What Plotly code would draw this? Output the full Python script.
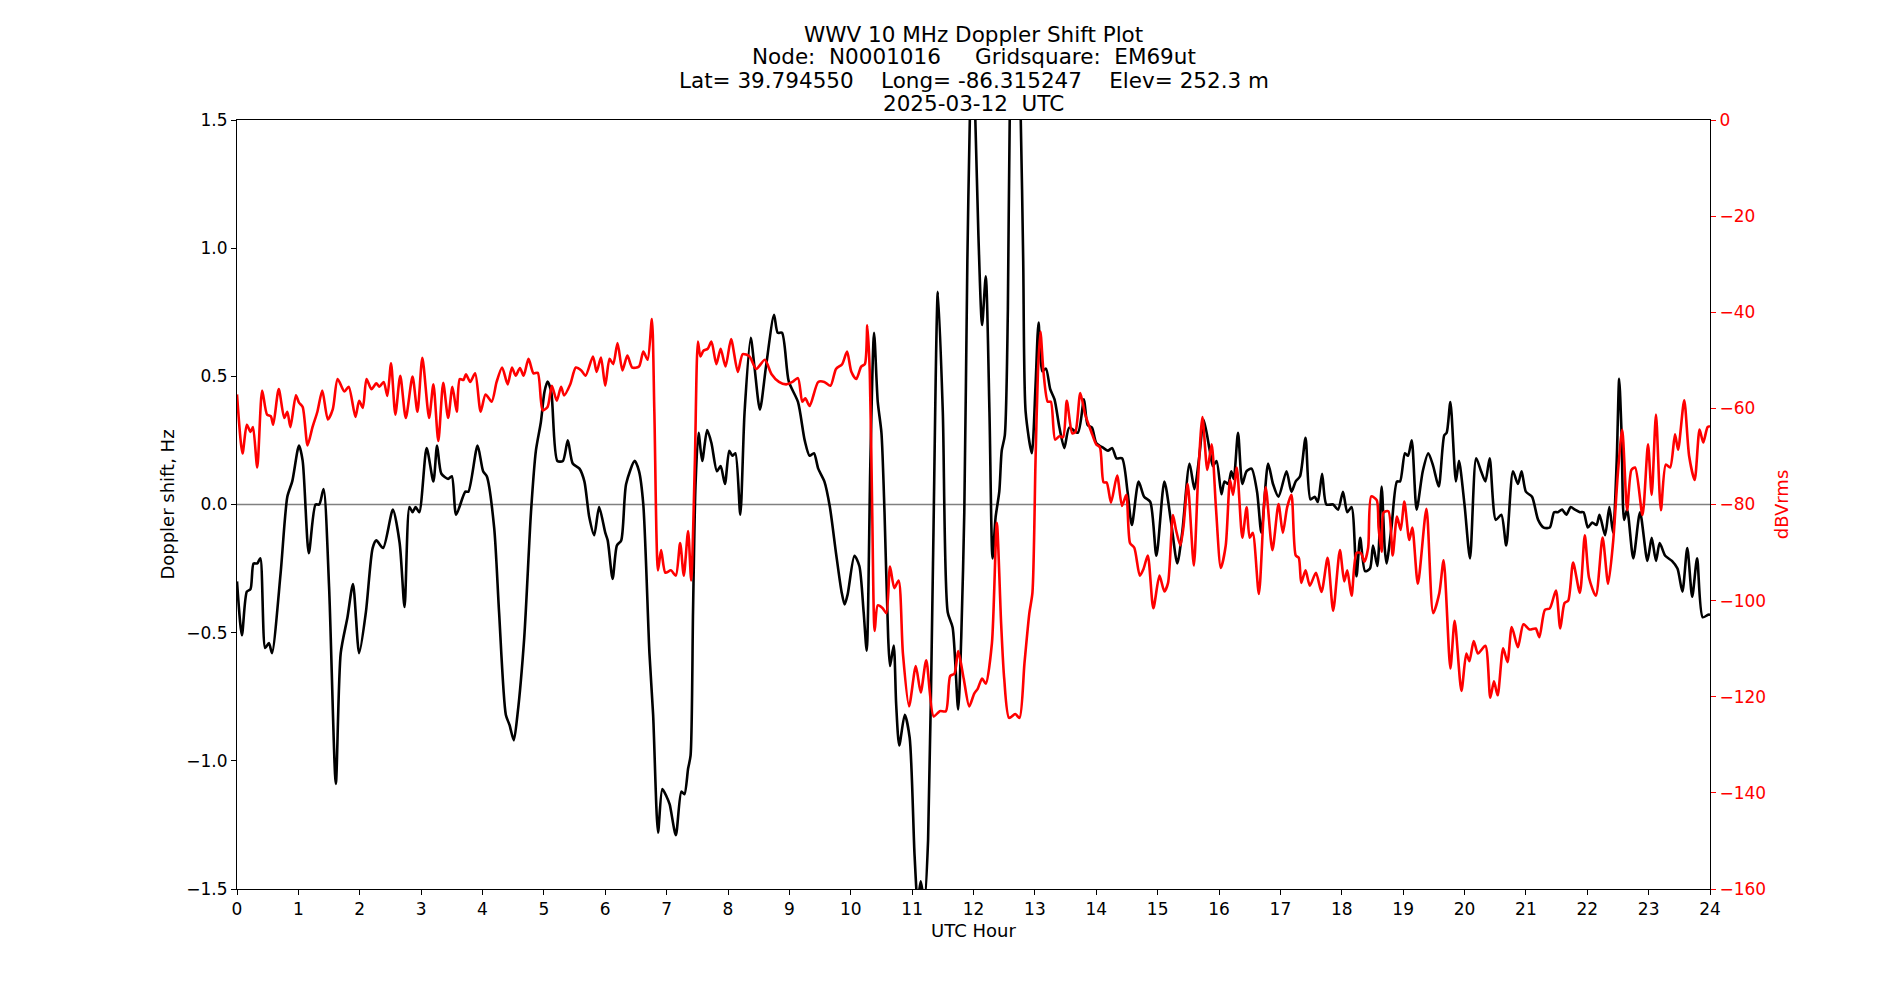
import plotly.graph_objects as go

# ---- Data ----
dop_hours = [0.00,0.08,0.16,0.22,0.27,0.33,0.38,0.46,0.52,0.57,0.71,0.82,0.90,1.01,1.07,1.17,1.28,1.34,1.41,1.50,
             1.61,1.69,1.80,1.89,1.99,2.10,2.21,2.27,2.38,2.54,2.65,2.73,2.81,2.86,2.91,2.97,3.09,3.20,3.26,3.33,
             3.44,3.50,3.57,3.72,3.77,3.92,4.01,4.07,4.19,4.27,4.38,4.44,4.51,4.57,4.68,4.79,4.87,4.95,5.01,5.06,
             5.12,5.22,5.31,5.39,5.47,5.58,5.66,5.74,5.82,5.90,6.00,6.04,6.12,6.19,6.26,6.34,6.48,6.55,6.62,6.72,
             6.78,6.86,6.93,7.00,7.05,7.15,7.24,7.29,7.35,7.39,7.43,7.47,7.52,7.58,7.66,7.73,7.82,7.88,7.95,8.02,
             8.07,8.12,8.20,8.27,8.37,8.43,8.52,8.62,8.75,8.81,8.88,8.99,9.14,9.25,9.33,9.40,9.47,9.57,9.66,9.76,
             9.85,9.90,9.95,10.06,10.14,10.21,10.26,10.32,10.38,10.44,10.50,10.55,10.61,10.64,10.70,10.74,10.79,10.88,10.96,11.04,
             11.09,11.14,11.20,11.26,11.34,11.42,11.50,11.58,11.66,11.75,11.80,11.85,11.90,11.94,11.98,12.03,12.08,12.14,12.20,12.26,
             12.31,12.36,12.42,12.46,12.51,12.56,12.59,12.68,12.77,12.81,12.85,12.95,13.01,13.06,13.12,13.18,13.25,13.32,13.40,13.48,
             13.56,13.70,13.80,13.86,13.93,14.00,14.12,14.19,14.26,14.33,14.42,14.51,14.58,14.69,14.78,14.88,14.98,15.11,15.22,15.32,
             15.40,15.52,15.60,15.68,15.75,15.85,15.90,15.96,16.04,16.09,16.15,16.20,16.24,16.31,16.38,16.45,16.53,16.62,16.69,16.80,
             16.88,16.97,17.10,17.18,17.25,17.32,17.41,17.49,17.56,17.61,17.68,17.75,17.86,17.94,18.02,18.09,18.16,18.24,18.30,18.38,
             18.46,18.51,18.58,18.65,18.70,18.73,18.81,18.90,18.95,19.03,19.08,19.14,19.22,19.32,19.41,19.49,19.58,19.67,19.71,19.77,
             19.86,19.91,20.00,20.09,20.19,20.27,20.34,20.41,20.51,20.60,20.68,20.79,20.87,20.93,21.00,21.10,21.20,21.29,21.39,21.46,
             21.52,21.59,21.66,21.73,21.80,21.88,21.94,22.01,22.08,22.15,22.20,22.29,22.36,22.42,22.48,22.52,22.56,22.60,22.65,22.75,
             22.86,22.98,23.05,23.12,23.18,23.27,23.38,23.47,23.55,23.63,23.71,23.79,23.88,23.97,24.00]
doppler_hz = [-0.30,-0.51,-0.34,-0.33,-0.23,-0.23,-0.21,-0.56,-0.54,-0.58,-0.27,0.03,0.09,0.23,0.17,-0.19,0.00,0.00,0.06,-0.32,
              -1.09,-0.58,-0.44,-0.31,-0.58,-0.42,-0.17,-0.14,-0.17,-0.02,-0.15,-0.40,-0.01,-0.03,-0.01,-0.03,0.22,0.09,0.23,0.12,
              0.10,0.11,-0.04,0.05,0.05,0.23,0.13,0.11,-0.09,-0.42,-0.82,-0.86,-0.92,-0.82,-0.52,-0.03,0.21,0.32,0.44,0.48,
              0.44,0.17,0.17,0.25,0.16,0.14,0.09,-0.05,-0.12,-0.01,-0.11,-0.14,-0.29,-0.16,-0.14,0.08,0.17,0.13,0.00,-0.58,
              -0.82,-1.28,-1.11,-1.14,-1.17,-1.29,-1.12,-1.13,-1.03,-0.98,-0.42,0.07,0.28,0.17,0.29,0.24,0.13,0.15,0.08,0.21,
              0.19,0.20,-0.04,0.36,0.65,0.54,0.37,0.54,0.74,0.67,0.67,0.48,0.40,0.25,0.19,0.20,0.14,0.09,-0.01,-0.19,
              -0.34,-0.39,-0.35,-0.20,-0.24,-0.42,-0.57,0.17,0.67,0.40,0.28,-0.03,-0.52,-0.63,-0.55,-0.78,-0.94,-0.82,-0.91,-1.37,
              -1.55,-1.47,-1.55,-1.31,-0.23,0.83,0.36,-0.42,-0.48,-0.80,-0.52,-0.03,0.95,1.50,1.80,1.50,1.05,0.70,0.89,0.36,
              -0.21,-0.05,0.05,0.21,0.27,0.76,1.50,2.20,1.50,0.95,0.36,0.20,0.46,0.71,0.52,0.53,0.45,0.41,0.30,0.22,
              0.30,0.28,0.41,0.31,0.30,0.24,0.22,0.21,0.22,0.18,0.18,0.05,-0.08,0.09,0.03,0.01,-0.20,0.09,-0.07,-0.23,
              -0.11,0.16,0.06,0.19,0.33,0.21,0.15,0.17,0.04,0.09,0.08,0.13,0.10,0.28,0.08,0.13,0.14,0.05,-0.11,0.16,
              0.08,0.03,0.13,0.05,0.09,0.11,0.26,0.02,0.03,0.01,0.12,0.00,0.00,-0.02,0.05,-0.03,-0.01,-0.28,-0.13,-0.26,
              -0.25,-0.16,-0.24,0.07,-0.17,-0.23,-0.09,0.09,0.09,0.20,0.19,0.25,-0.02,0.13,0.20,0.15,0.07,0.27,0.28,0.40,
              0.09,0.17,0.00,-0.21,0.18,0.13,0.09,0.18,-0.06,-0.04,-0.16,0.13,0.08,0.13,0.05,0.03,-0.06,-0.09,-0.09,-0.03,
              -0.03,-0.02,-0.04,-0.01,-0.02,-0.03,-0.03,-0.09,-0.07,-0.08,-0.04,-0.12,-0.01,-0.11,0.17,0.49,0.27,-0.06,-0.02,-0.21,
              -0.03,-0.22,-0.13,-0.22,-0.15,-0.20,-0.22,-0.25,-0.34,-0.17,-0.36,-0.21,-0.44,-0.43,-0.43]

pwr_hours = [0.00,0.09,0.16,0.22,0.26,0.33,0.41,0.49,0.55,0.59,0.68,0.77,0.82,0.87,0.96,1.01,1.07,1.15,1.23,1.31,
             1.39,1.48,1.56,1.64,1.75,1.82,1.93,1.99,2.05,2.11,2.19,2.27,2.32,2.39,2.45,2.51,2.58,2.66,2.75,2.86,
             2.94,3.02,3.13,3.20,3.28,3.36,3.44,3.51,3.58,3.63,3.69,3.73,3.80,3.88,3.97,4.05,4.15,4.23,4.32,4.41,
             4.48,4.54,4.61,4.67,4.75,4.83,4.90,4.98,5.06,5.13,5.21,5.28,5.33,5.43,5.52,5.61,5.68,5.80,5.86,5.93,
             6.00,6.07,6.13,6.20,6.28,6.36,6.44,6.55,6.62,6.69,6.76,6.80,6.86,6.91,6.98,7.07,7.15,7.22,7.28,7.35,
             7.40,7.46,7.51,7.55,7.60,7.67,7.73,7.81,7.88,7.96,8.05,8.16,8.24,8.35,8.46,8.60,8.71,8.83,8.95,9.05,
             9.14,9.21,9.26,9.33,9.47,9.57,9.67,9.76,9.86,9.94,10.01,10.09,10.17,10.23,10.27,10.31,10.35,10.39,10.44,10.52,
             10.58,10.64,10.71,10.78,10.85,10.95,11.06,11.14,11.23,11.35,11.45,11.55,11.62,11.69,11.75,11.84,11.93,12.01,12.07,12.14,
             12.20,12.30,12.38,12.45,12.50,12.58,12.68,12.75,12.83,12.91,12.96,13.01,13.05,13.09,13.14,13.21,13.26,13.33,13.40,13.46,
             13.52,13.61,13.66,13.74,13.82,13.92,14.00,14.06,14.12,14.17,14.24,14.34,14.42,14.49,14.55,14.62,14.71,14.77,14.84,14.93,
             15.03,15.11,15.17,15.25,15.30,15.37,15.42,15.49,15.59,15.66,15.73,15.81,15.88,15.95,16.03,16.11,16.18,16.23,16.29,16.38,
             16.45,16.50,16.55,16.65,16.76,16.87,16.97,17.04,17.11,17.18,17.25,17.30,17.34,17.41,17.48,17.58,17.67,17.77,17.86,17.97,
             18.04,18.09,18.16,18.24,18.31,18.37,18.43,18.48,18.57,18.60,18.65,18.68,18.76,18.83,18.90,18.96,19.02,19.10,19.15,19.24,
             19.38,19.49,19.59,19.66,19.77,19.84,19.95,20.03,20.08,20.15,20.22,20.34,20.42,20.48,20.54,20.63,20.70,20.77,20.87,20.96,
             21.06,21.16,21.22,21.31,21.39,21.49,21.56,21.63,21.69,21.77,21.88,21.96,22.03,22.14,22.25,22.34,22.42,22.50,22.57,22.65,
             22.72,22.78,22.90,22.99,23.05,23.12,23.20,23.28,23.35,23.43,23.48,23.58,23.66,23.75,23.83,23.89,23.96,24.00]
pwr_dbv = [-57.1,-69.4,-63.4,-64.9,-63.9,-72.3,-56.3,-61.3,-61.6,-63.4,-56.0,-62.0,-60.7,-63.9,-57.3,-58.8,-59.7,-67.7,-63.9,-60.7,
           -56.3,-62.3,-60.2,-53.9,-56.5,-55.5,-61.8,-58.4,-59.9,-53.9,-56.0,-54.8,-55.5,-54.5,-57.4,-50.6,-61.3,-53.2,-62.0,-53.4,
           -60.7,-49.5,-62.0,-55.0,-66.8,-54.7,-62.0,-55.5,-60.7,-53.9,-54.1,-52.9,-54.5,-52.7,-60.7,-57.1,-58.6,-54.5,-51.5,-55.0,
           -51.5,-53.2,-51.6,-53.2,-49.7,-52.7,-52.6,-60.4,-59.7,-55.3,-58.4,-55.5,-57.3,-55.0,-51.5,-52.1,-53.2,-49.2,-52.4,-49.4,
           -55.3,-49.7,-50.8,-46.4,-52.1,-49.0,-51.5,-51.3,-48.2,-49.9,-41.4,-60.7,-93.7,-89.5,-94.2,-93.7,-94.8,-88.0,-94.8,-85.5,
           -95.8,-71.2,-46.1,-49.2,-48.0,-47.6,-46.1,-50.8,-47.6,-51.3,-45.6,-52.4,-48.7,-49.2,-51.8,-49.9,-52.9,-54.5,-55.0,-54.5,
           -53.7,-58.6,-57.9,-59.5,-54.5,-54.5,-55.3,-51.8,-50.8,-48.2,-52.4,-53.9,-51.3,-50.8,-42.7,-52.4,-81.7,-106.3,-101.0,-101.6,
           -102.6,-92.9,-97.4,-95.8,-111.0,-122.0,-113.6,-119.1,-112.4,-124.1,-123.0,-123.0,-115.7,-115.2,-110.5,-116.2,-122.0,-119.4,-118.3,-116.2,
           -117.3,-108.9,-83.8,-104.7,-116.2,-124.4,-123.6,-124.4,-113.1,-102.6,-98.4,-71.2,-52.4,-44.0,-52.4,-58.6,-58.6,-66.5,-65.8,-66.0,
           -58.4,-65.2,-64.9,-56.8,-61.3,-64.9,-67.5,-68.1,-75.4,-75.4,-79.6,-74.0,-80.3,-78.0,-88.0,-89.0,-94.8,-93.4,-90.6,-101.6,
           -94.8,-98.1,-96.3,-82.2,-85.3,-88.5,-84.8,-75.7,-92.7,-74.3,-61.8,-72.8,-67.5,-80.6,-93.2,-88.5,-74.9,-78.0,-72.3,-86.9,
           -80.6,-86.9,-85.9,-98.6,-76.4,-89.5,-79.9,-85.9,-80.6,-78.0,-90.6,-91.1,-96.3,-93.7,-96.9,-94.2,-98.2,-91.1,-102.1,-89.5,
           -96.0,-93.7,-99.0,-90.1,-90.1,-91.9,-89.0,-78.3,-79.1,-84.8,-89.8,-81.7,-81.4,-90.6,-82.5,-85.3,-79.4,-87.4,-84.8,-96.5,
           -80.9,-102.6,-98.4,-91.6,-114.1,-104.2,-118.8,-111.0,-112.6,-108.4,-111.0,-109.4,-120.2,-116.8,-119.7,-109.9,-112.8,-105.5,-109.7,-104.9,
           -106.0,-105.8,-107.6,-101.9,-101.6,-97.9,-105.8,-100.5,-100.0,-92.1,-98.4,-86.4,-95.3,-99.0,-86.9,-96.5,-88.0,-73.3,-64.4,-81.2,
           -72.8,-72.3,-82.2,-67.5,-78.0,-61.3,-81.2,-71.7,-72.3,-65.4,-68.6,-58.3,-69.9,-74.9,-64.4,-67.1,-63.9,-63.7]

title_lines = ["WWV 10 MHz Doppler Shift Plot",
               "Node:  N0001016     Gridsquare:  EM69ut",
               "Lat= 39.794550    Long= -86.315247    Elev= 252.3 m",
               "2025-03-12  UTC"]
x_ticks = list(range(0, 25))
y_ticks = [-1.5, -1.0, -0.5, 0.0, 0.5, 1.0, 1.5]
y2_ticks = list(range(-160, 1, 20))

FONT = "DejaVu Sans"
W, H = 1900, 1000
ML, MR, MT, MB = 237, 190, 120, 111
plot_h = H - MT - MB

fig = go.Figure()
fig.add_trace(go.Scatter(x=dop_hours, y=doppler_hz, mode="lines", yaxis="y",
                         line=dict(color="black", width=2.6, shape="spline", smoothing=0.7),
                         showlegend=False, hoverinfo="skip"))
fig.add_trace(go.Scatter(x=pwr_hours, y=pwr_dbv, mode="lines", yaxis="y2",
                         line=dict(color="red", width=2.6, shape="spline", smoothing=0.7),
                         showlegend=False, hoverinfo="skip"))

fig.add_shape(type="line", xref="paper", x0=0, x1=1, yref="y", y0=0, y1=0,
              line=dict(color="#808080", width=1.3), layer="below")

centers = [35, 57, 80, 104]
annotations = []
for txt, yc in zip(title_lines, centers):
    annotations.append(dict(text=txt, xref="paper", x=0.5, yref="paper",
                            y=1 + (MT - yc) / plot_h, xanchor="center", yanchor="middle",
                            showarrow=False, font=dict(family=FONT, size=21.5, color="black")))

fig.update_layout(
    width=W, height=H,
    margin=dict(l=ML, r=MR, t=MT, b=MB),
    paper_bgcolor="white", plot_bgcolor="white",
    font=dict(family=FONT, size=17, color="black"),
    annotations=annotations,
    xaxis=dict(range=[0, 24], tickvals=x_ticks, ticks="outside", ticklen=5, tickcolor="black",
               showline=True, linecolor="black", linewidth=1, mirror=True, showgrid=False, zeroline=False,
               title=dict(text="UTC Hour", font=dict(family=FONT, size=18), standoff=5),
               tickfont=dict(family=FONT, size=17)),
    yaxis=dict(range=[-1.5, 1.5], tickvals=y_ticks, tickformat=".1f", ticks="outside", ticklen=5,
               tickcolor="black", showline=True, linecolor="black", linewidth=1, mirror=True,
               showgrid=False, zeroline=False,
               title=dict(text="Doppler shift, Hz", font=dict(family=FONT, size=18), standoff=7),
               tickfont=dict(family=FONT, size=17)),
    yaxis2=dict(range=[-160, 0], tickvals=y2_ticks, overlaying="y", side="right", ticks="outside",
                ticklen=5, tickcolor="red", showline=True, linecolor="black", linewidth=1,
                showgrid=False, zeroline=False,
                title=dict(text="dBVrms", font=dict(family=FONT, size=18, color="red"), standoff=10),
                tickfont=dict(family=FONT, size=17, color="red")),
)

fig.write_html("out.html")
